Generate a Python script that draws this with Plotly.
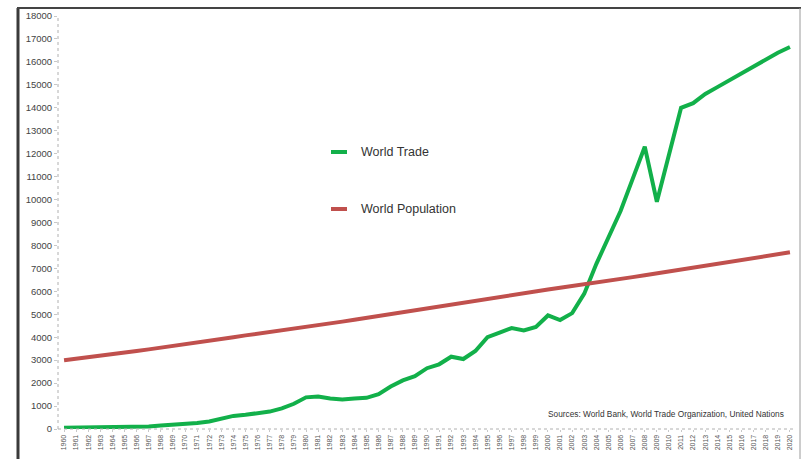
import plotly.graph_objects as go

years = list(range(1960, 2021))
year_labels = [str(y) for y in years]

world_trade = [50, 55, 60, 70, 80, 90, 100, 110, 150, 180,
               220, 260, 330, 450, 570, 620, 680, 760, 900, 1100,
               1380, 1420, 1330, 1290, 1330, 1360, 1520, 1850, 2120, 2300,
               2650, 2820, 3150, 3050, 3400, 4000, 4200, 4400, 4300, 4450,
               4950, 4750, 5050, 5900, 7200, 8300, 9500, 10900, 12300, 9900,
               12000, 14000, 14200, 14600, 14900, 15200, 15500, 15800, 16100, 16400,
               16650]

world_population = [3000, 3060, 3120, 3190, 3260, 3330, 3400, 3470, 3540, 3620,
                    3700, 3780, 3850, 3930, 4000, 4080, 4150, 4220, 4290, 4370,
                    4440, 4520, 4600, 4680, 4760, 4840, 4920, 5010, 5100, 5190,
                    5280, 5360, 5440, 5520, 5600, 5680, 5760, 5840, 5920, 6000,
                    6080, 6160, 6230, 6310, 6390, 6460, 6540, 6620, 6700, 6780,
                    6860, 6940, 7020, 7100, 7180, 7260, 7340, 7420, 7500, 7580,
                    7700]

y_ticks = list(range(0, 18001, 1000))
series_names = ["World Trade", "World Population"]
source_text = "Sources: World Bank, World Trade Organization, United Nations"

GREEN = "#12b04a"
RED = "#c0504d"

W, H = 803, 459
L, R, T, B = 58, 7, 16, 30
pw, ph = W - L - R, H - T - B

def px(x):
    return (x - L) / pw

def py(y):
    return (H - B - y) / ph

fig = go.Figure()
fig.add_trace(go.Scatter(x=years, y=world_trade, mode="lines", name=series_names[0],
                         line=dict(color=GREEN, width=4), showlegend=False))
fig.add_trace(go.Scatter(x=years, y=world_population, mode="lines", name=series_names[1],
                         line=dict(color=RED, width=4), showlegend=False))

shapes = []
# dotted axis lines
shapes.append(dict(type="line", xref="paper", yref="paper", x0=0, x1=1, y0=0, y1=0,
                   line=dict(color="#b0b0b0", width=1, dash="dot")))
shapes.append(dict(type="line", xref="paper", yref="paper", x0=0, x1=0, y0=0, y1=1,
                   line=dict(color="#b0b0b0", width=1, dash="dot")))
# outer frame
shapes.append(dict(type="line", xref="paper", yref="paper", x0=px(18), x1=px(18), y0=py(8), y1=py(475),
                   line=dict(color="#3a3a3a", width=3)))
shapes.append(dict(type="line", xref="paper", yref="paper", x0=px(17), x1=px(801), y0=py(8), y1=py(8),
                   line=dict(color="#444444", width=2)))
shapes.append(dict(type="line", xref="paper", yref="paper", x0=px(800), x1=px(800), y0=py(8), y1=py(475),
                   line=dict(color="#9a9a9a", width=1)))
# legend samples
colors = [GREEN, RED]
leg_y = [152, 209]
annotations = []
for name, c, ly in zip(series_names, colors, leg_y):
    shapes.append(dict(type="line", xref="paper", yref="paper", x0=px(331), x1=px(347), y0=py(ly), y1=py(ly),
                       line=dict(color=c, width=4)))
    annotations.append(dict(xref="paper", yref="paper", x=px(359), y=py(ly), xanchor="left", yanchor="middle",
                            text=name, showarrow=False,
                            font=dict(family="Liberation Sans, Arial", size=12.5, color="#333333")))

annotations.append(dict(xref="paper", yref="paper", x=px(786), y=py(414), xanchor="right", yanchor="middle",
                        text=source_text, showarrow=False,
                        font=dict(family="Liberation Sans, Arial", size=8.3, color="#333333")))

fig.update_layout(
    width=W, height=H,
    margin=dict(l=L, r=R, t=T, b=B),
    paper_bgcolor="white", plot_bgcolor="white",
    shapes=shapes, annotations=annotations,
    xaxis=dict(range=[1959.5, 2020.5], tickmode="array", tickvals=years, ticktext=year_labels,
               tickangle=-90, tickfont=dict(family="Liberation Sans, Arial", size=7, color="#555555"),
               showgrid=False, zeroline=False, showline=False,
               ticks="outside", ticklen=2, tickcolor="#c8c8c8", fixedrange=True),
    yaxis=dict(range=[0, 18000], tickmode="array", tickvals=y_ticks, ticktext=[str(v) for v in y_ticks],
               tickfont=dict(family="Liberation Sans, Arial", size=9.5, color="#444444"),
               showgrid=False, zeroline=False, showline=False,
               ticks="outside", ticklen=3, tickcolor="#c8c8c8", fixedrange=True),
    showlegend=False,
)

fig.write_html("out.html", config={"displayModeBar": False},
               post_script="document.body.style.margin='0px';")
